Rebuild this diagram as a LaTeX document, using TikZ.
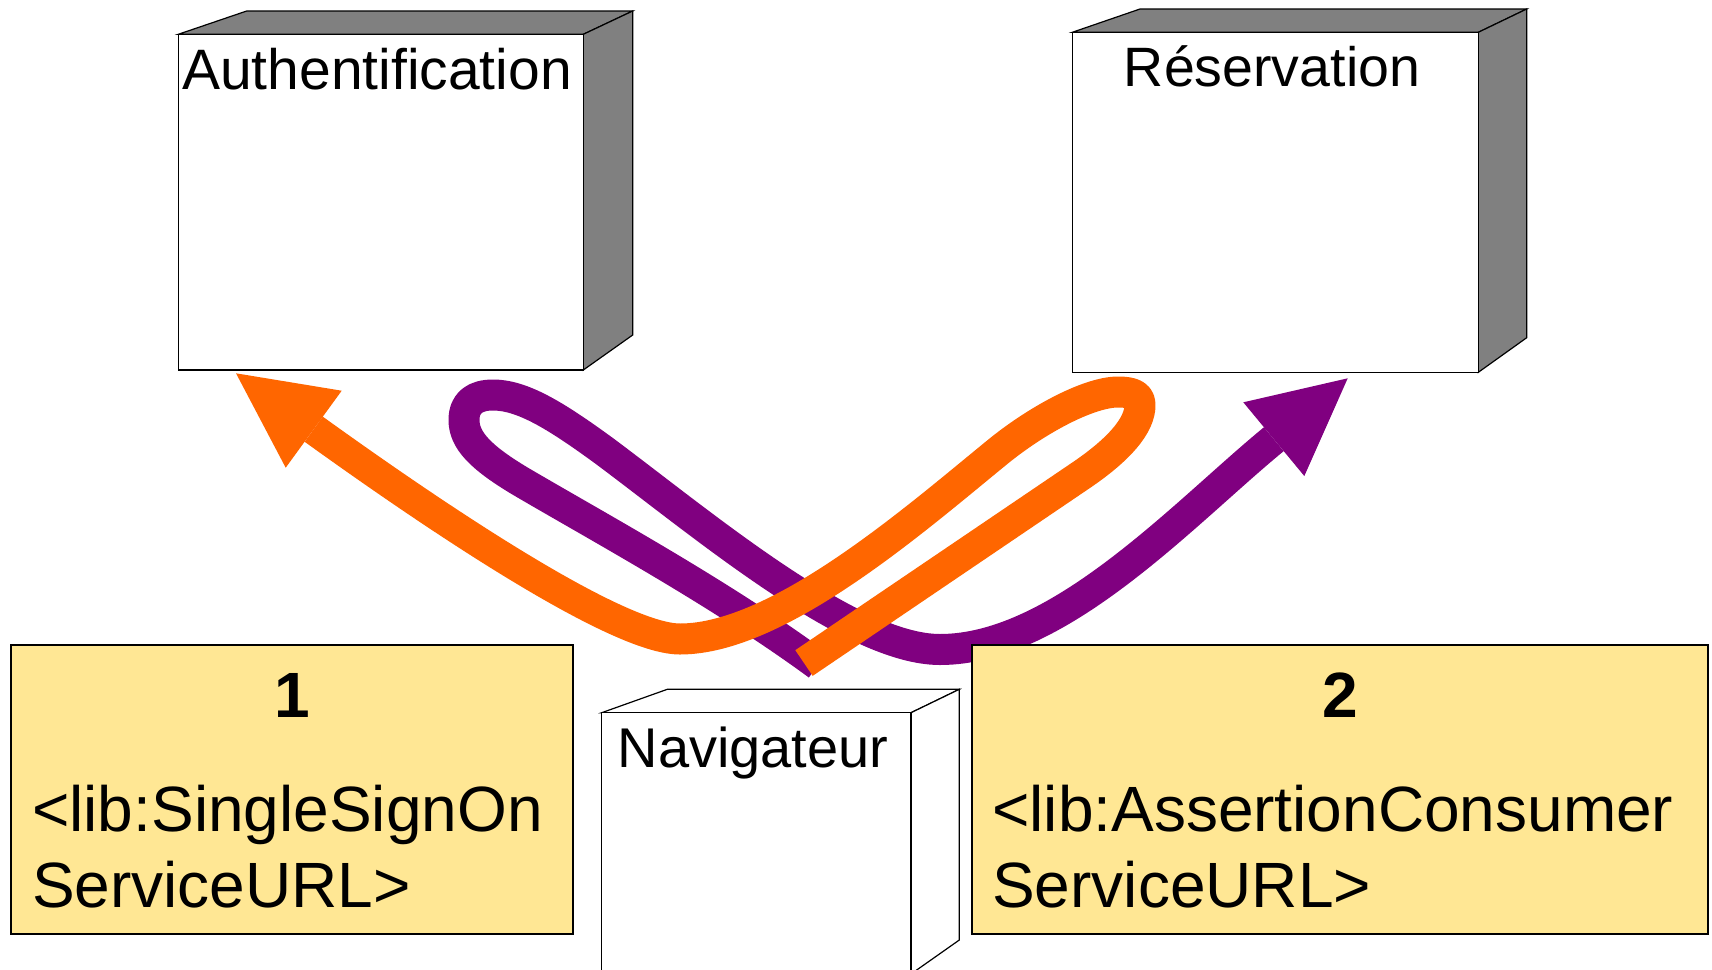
\documentclass[tikz,border=0pt]{standalone}
\usepackage{fontspec}
\setmainfont{Liberation Sans}
\definecolor{flowor}{HTML}{FF6600}
\definecolor{flowpu}{HTML}{800080}
\definecolor{cubegrey}{HTML}{808080}
\definecolor{noteyellow}{RGB}{255,231,148}
\tikzset{
  cubeface/.style={draw=black, line width=1.2pt, line join=miter},
  greyface/.style={cubeface, fill=cubegrey},
  whiteface/.style={cubeface, fill=white},
  cubelabel/.style={anchor=base, inner sep=0pt, font=\fontsize{56}{64}\selectfont},
  notebox/.style={draw=black, line width=2pt, fill=noteyellow},
  notenum/.style={anchor=base, inner sep=0pt, font=\fontsize{64}{76}\selectfont\bfseries},
  notetext/.style={anchor=base west, inner sep=0pt, font=\fontsize{64}{76}\selectfont},
  flowline/.style={line width=31pt, line cap=butt, line join=round},
}
\begin{document}
\begin{tikzpicture}[x=1pt,y=-1pt]
\useasboundingbox (0,0) rectangle (1712,969);
\clip (0,0) rectangle (1712,969);
\fill[white] (0,0) rectangle (1712,969);

% ---- Authentification cube
\draw[greyface] (178.3,34.3) -- (246.7,11) -- (632.7,11) -- (583.3,34.3) -- cycle;
\draw[greyface] (583.3,34.3) -- (632.7,11) -- (632.7,335) -- (583.3,370) -- cycle;
\draw[whiteface] (178.3,34.3) rectangle (583.3,370);
\node[cubelabel, font=\fontsize{57}{64}\selectfont] (auth) at (377,89) {Authentification};

% ---- Reservation cube
\draw[greyface] (1072.3,32.3) -- (1140,9) -- (1526.7,9) -- (1478.3,32.3) -- cycle;
\draw[greyface] (1478.3,32.3) -- (1526.7,9) -- (1526.7,337.7) -- (1478.3,372.3) -- cycle;
\draw[whiteface] (1072.3,32.3) rectangle (1478.3,372.3);
\node[cubelabel, font=\fontsize{55.5}{64}\selectfont] (resa) at (1272,86.7) {Réservation};

% ---- Navigateur cube
\draw[whiteface] (601.7,712.7) -- (667.3,689.3) -- (959.3,689.3) -- (911,712.7) -- cycle;
\draw[whiteface] (911,712.7) -- (959.3,689.3) -- (959.3,940) -- (911,974) -- cycle;
\draw[whiteface] (601.7,712.7) rectangle (911,980);
\node[cubelabel] (nav) at (753,767.3) {Navigateur};

% ---- purple flow (browser -> loop -> Reservation)
\coordinate (pS) at (818,665);
\coordinate (pL) at (464,420);
\coordinate (pT) at (493,395);
\coordinate (pV) at (940,649.5);
\coordinate (pN) at (1273.8,439.2);
\draw[flowline, flowpu] (pS) .. controls (720,593) and (600,528) .. (520,481)
  .. controls (480,457) and (464,440) .. (pL)
  .. controls (464,402) and (476,395) .. (pT)
  .. controls (522,395) and (555,415) .. (603,450)
  .. controls (700,522) and (850,649.5) .. (pV)
  .. controls (1060,649.5) and (1185,512) .. (pN);
\fill[flowpu] (1347.7,378.3) -- (1243.3,402.3) -- (1304.3,476) -- cycle;

% ---- orange flow (browser -> loop -> Authentification)
\coordinate (oS) at (804,663);
\coordinate (oR) at (1140,405);
\coordinate (oT) at (1118,392);
\coordinate (oV) at (680,639);
\coordinate (oN) at (313.7,429.2);
\draw[flowline, flowor] (oS) -- (1080,476)
  .. controls (1120,449) and (1140,425) .. (oR)
  .. controls (1140,395) and (1132,392) .. (oT)
  .. controls (1090,392) and (1040,418) .. (1000,450)
  .. controls (920,515) and (780,639) .. (oV)
  .. controls (625,639) and (476,546) .. (oN);
\fill[flowor] (236,373.3) -- (341.7,390.7) -- (285.7,467.7) -- cycle;

% ---- note boxes
\draw[notebox] (11.3,645) rectangle (572.6,934);
\node[notenum] (n1) at (292,717.7) {1};
\node[notetext] (t1a) at (32,831.7) {<lib:SingleSignOn};
\node[notetext] (t1b) at (32,907.7) {ServiceURL>};

\draw[notebox] (972,645) rectangle (1708,934);
\node[notenum] (n2) at (1340,717.7) {2};
\node[notetext] (t2a) at (992,831.7) {<lib:AssertionConsumer};
\node[notetext] (t2b) at (992,907.7) {ServiceURL>};
\end{tikzpicture}
\end{document}
